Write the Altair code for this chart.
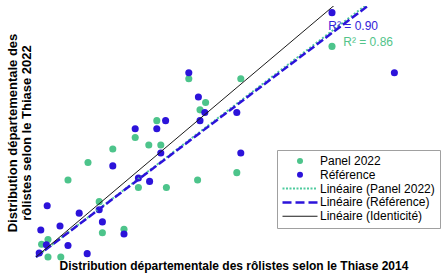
import altair as alt
import pandas as pd

# ---------------- data ----------------
series_names = ["Panel 2022", "Référence"]
panel_x = [3.70, 2.56, 1.91, 2.12, 2.05, 1.51, 1.24, 1.41, 1.56, 0.96, 0.65, 0.40,
           2.02, 1.28, 1.63, 2.51, 0.79, 0.83, 1.10, 0.15, 0.07, 0.15, 0.31]
panel_y = [3.12, 2.64, 2.64, 2.29, 2.18, 2.02, 1.77, 1.66, 1.66, 1.60, 1.40, 1.14,
           1.14, 1.03, 1.03, 1.25, 0.82, 0.36, 0.41, 0.26, 0.19, 0.00, 0.00]
ref_x = [3.70, 4.48, 1.91, 2.03, 2.11, 2.05, 2.51, 1.62, 1.24, 1.51, 2.56, 1.56, 0.96,
         1.28, 1.42, 0.14, 0.54, 0.79, 0.83, 0.06, 0.30, 1.10, 0.13, 0.40, 0.04, 0.64]
ref_y = [3.62, 2.73, 2.73, 2.37, 2.14, 2.02, 2.14, 2.02, 1.90, 1.90, 1.54, 1.54, 1.35,
         1.17, 1.12, 0.76, 0.65, 0.70, 0.52, 0.40, 0.46, 0.34, 0.18, 0.17, 0.06, 0.05]

trend_labels = ["Linéaire (Panel 2022)", "Linéaire (Référence)", "Linéaire (Identicité)"]
trend_slopes = [0.905, 0.897, 1.0]          # fitted lines through the origin
r2_texts = ["R² = 0.90", "R² = 0.86"]

x_title = "Distribution départementale des rôlistes selon le Thiase 2014"
y_title = ["Distribution départementale des", "rôlistes selon le Thiase 2022"]

# ---------------- tables ----------------
pts = pd.DataFrame({
    "x": panel_x + ref_x,
    "y": panel_y + ref_y,
    "serie": [series_names[0]] * len(panel_x) + [series_names[1]] * len(ref_x),
})
x_end = max(panel_x + ref_x)
line_rows = []
for lab, s in zip(trend_labels, trend_slopes):
    for xv in (0.0, x_end):
        line_rows.append({"x": xv, "y": s * xv, "serie": lab})
lines_df = pd.DataFrame(line_rows)

# ---------------- styles ----------------
FONT = "Liberation Sans"
GREEN = "#4DC48B"
GREEN_LINE = "#4FCB9E"
BLUE = "#2C13DA"
BLACK = "#1A1A1A"

legend_domain = series_names + trend_labels
legend_colors = [GREEN, BLUE, GREEN_LINE, BLUE, BLACK]


def rect(x0, x1, h, s=3.0):
    return f"M{x0/s:.3f},{-h/2/s:.3f}H{x1/s:.3f}V{h/2/s:.3f}H{x0/s:.3f}Z"


dotted_path = "".join(rect(-17.5 + i * 3.5, -17.5 + i * 3.5 + 2, 2) for i in range(10))
dashed_path = "".join(rect(a, a + 9, 2.5) for a in (-17.5, -4.5, 8.5))
solid_path = rect(-17.5, 17.5, 1)
legend_shapes = ["circle", "circle", dotted_path, dashed_path, solid_path]

xscale = alt.Scale(domain=[-0.0125, 4.95], nice=False, zero=False)
yscale = alt.Scale(domain=[-0.0296, 3.7185], nice=False, zero=False)

xaxis = alt.Axis(title=x_title, labels=False, ticks=False, domain=False, grid=False,
                 titleFont=FONT, titleFontSize=12, titleFontWeight="bold", titleColor="black",
                 titlePadding=1)
yaxis = alt.Axis(title=y_title, labels=False, ticks=False, domain=False, grid=False,
                 titleFont=FONT, titleFontSize=13, titleFontWeight="bold", titleColor="black",
                 titleX=-22.5, titleY=126.5, titleAngle=270, titleAlign="center",
                 titleBaseline="middle", titleLineHeight=13.5)

leg = alt.Legend(title=None, orient="none", legendX=242, legendY=144,
                 symbolSize=36, symbolStrokeWidth=0, symbolOffset=12, labelOffset=14,
                 labelFont=FONT, labelFontSize=12, labelColor="black",
                 padding=5, rowPadding=1.8, strokeColor="#A0A0A0", fillColor="white")

points = alt.Chart(pts).mark_point(filled=True, size=50, opacity=1, strokeWidth=0).encode(
    x=alt.X("x:Q", scale=xscale, axis=xaxis),
    y=alt.Y("y:Q", scale=yscale, axis=yaxis),
    color=alt.Color("serie:N", scale=alt.Scale(domain=legend_domain, range=legend_colors), legend=leg),
    shape=alt.Shape("serie:N", scale=alt.Scale(domain=legend_domain, range=legend_shapes), legend=leg),
)

base_line = alt.Chart(lines_df)


def trend(label, **style):
    return base_line.transform_filter(alt.datum.serie == label).mark_line(clip=True, **style).encode(
        x=alt.X("x:Q", scale=xscale, axis=xaxis),
        y=alt.Y("y:Q", scale=yscale, axis=yaxis),
    )


green_line = trend(trend_labels[0], color=GREEN_LINE, strokeDash=[2, 2], strokeWidth=2)
blue_line = trend(trend_labels[1], color=BLUE, strokeDash=[8, 3], strokeWidth=2.5)
ident_line = trend(trend_labels[2], color=BLACK, strokeWidth=1)

r2_df = pd.DataFrame({"text": r2_texts, "x": [3.654, 3.841], "y": [3.427, 3.184]})
r2_blue = alt.Chart(r2_df.iloc[[0]]).mark_text(align="left", baseline="middle", font=FONT,
                                                fontSize=12, color="#3322D8").encode(
    x=alt.X("x:Q", scale=xscale, axis=xaxis), y=alt.Y("y:Q", scale=yscale, axis=yaxis), text="text:N")
r2_green = alt.Chart(r2_df.iloc[[1]]).mark_text(align="left", baseline="middle", font=FONT,
                                                 fontSize=12, color="#52C48A").encode(
    x=alt.X("x:Q", scale=xscale, axis=xaxis), y=alt.Y("y:Q", scale=yscale, axis=yaxis), text="text:N")

chart = alt.layer(points, green_line, blue_line, ident_line, r2_blue, r2_green).properties(
    width=397, height=253,
    padding={"left": 35, "top": 6, "right": 12, "bottom": 17},
    autosize="none", background="white",
).configure_view(stroke=None)

chart.save("out.html", embed_options={"renderer": "svg", "actions": False})
